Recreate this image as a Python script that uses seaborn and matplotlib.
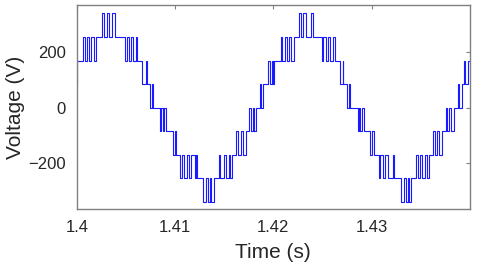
import numpy as np
import pandas as pd
import matplotlib
matplotlib.use("Agg")
import matplotlib.pyplot as plt
import seaborn as sns

# one inverter level = 85 V (nine levels, -340 V ... +340 V)
step_v = 85

# switching instants in ms after t = 1.4 s, and the level held after each one
period1_t = [
    0.00, 0.05,
    0.64, 0.80, 1.05, 1.25, 1.46, 1.70, 1.91,
    2.52, 2.75, 3.05, 3.28, 3.62, 3.90,
    4.87, 5.07, 5.30, 5.50, 5.68, 5.98, 6.12,
    6.66, 7.04, 7.11,
    7.45, 7.62, 7.72,
    8.47, 8.60, 8.72, 8.85, 9.10,
    9.80, 9.95, 10.12,
    10.51, 10.70, 10.95, 11.20, 11.45, 11.65, 12.00, 12.12, 12.28,
    12.89, 13.10, 13.30, 13.55, 13.70, 13.91,
    14.42, 14.59, 14.93, 15.17, 15.44, 15.60, 15.79,
    16.22, 16.45, 16.66, 16.90, 17.17,
    17.52, 17.70, 17.90, 18.05, 18.27,
    18.60, 18.75, 18.95,
    19.50, 19.62, 19.85, 19.95, 20.10,
]
period1_lvl = [
    1, 2,
    3, 2, 3, 2, 3, 2, 3,
    4, 3, 4, 3, 4, 3,
    2, 3, 2, 3, 2, 3, 2,
    1, 2, 1,
    0, 1, 0,
    -1, 0, -1, 0, -1,
    -2, -1, -2,
    -3, -2, -3, -2, -3, -2, -3, -2, -3,
    -4, -3, -4, -3, -4, -3,
    -2, -3, -2, -3, -2, -3, -2,
    -1, -2, -1, -2, -1,
    0, -1, 0, -1, 0,
    1, 0, 1,
    2, 1, 2, 1, 2,
]

period2_t = [
    20.74, 20.90, 21.15, 21.35, 21.55, 21.80, 22.11,
    22.62, 22.85, 23.03, 23.28, 23.78, 24.02,
    24.90, 25.10, 25.35, 25.55, 25.75, 26.05, 26.30,
    26.75, 27.05, 27.12,
    27.50, 27.70, 27.80,
    28.57, 28.70, 28.85, 28.98, 29.25,
    29.87, 30.05, 30.25,
    30.75, 30.90, 31.15, 31.35, 31.65, 32.15, 32.30,
    32.96, 33.25, 33.47, 33.70, 33.81, 34.05,
    34.56, 34.70, 34.95, 35.15, 35.45, 35.60, 35.82,
    36.26, 36.45, 36.65, 36.85, 37.11,
    37.52, 37.65, 37.90, 38.10, 38.38,
    38.74, 38.88, 39.15,
    39.42, 39.55, 39.83, 40.00,
]
period2_lvl = [
    3, 2, 3, 2, 3, 2, 3,
    4, 3, 4, 3, 4, 3,
    2, 3, 2, 3, 2, 3, 2,
    1, 2, 1,
    0, 1, 0,
    -1, 0, -1, 0, -1,
    -2, -1, -2,
    -3, -2, -3, -2, -3, -2, -3,
    -4, -3, -4, -3, -4, -3,
    -2, -3, -2, -3, -2, -3, -2,
    -1, -2, -1, -2, -1,
    0, -1, 0, -1, 0,
    1, 0, 1,
    2, 1, 2, 2,
]

x_ticks = [1.4, 1.41, 1.42, 1.43]
x_tick_labels = ["1.4", "1.41", "1.42", "1.43"]
y_ticks = [-200, 0, 200]

df = pd.DataFrame({
    "time": 1.4 + np.array(period1_t + period2_t) / 1000.0,
    "voltage": np.array(period1_lvl + period2_lvl) * step_v,
})

sns.set_style("white")
plt.rcParams["font.family"] = ["Liberation Sans", "DejaVu Sans"]

fig = plt.figure(figsize=(4.8, 2.7), dpi=100)
ax = fig.add_axes([0.160, 0.226, 0.819, 0.755])

sns.lineplot(data=df, x="time", y="voltage", estimator=None, sort=False,
             drawstyle="steps-post", color="#1a1aff", linewidth=0.8, ax=ax)

ax.set_xlim(1.4, 1.44)
ax.set_ylim(-366, 370)
ax.set_xticks(x_ticks)
ax.set_xticklabels(x_tick_labels)
ax.set_yticks(y_ticks)
ax.set_xlabel("Time (s)", fontsize=15, color="#262626", labelpad=6)
ax.set_ylabel("Voltage (V)", fontsize=15, color="#262626", labelpad=2)
ax.tick_params(direction="in", top=True, right=True, length=3, width=0.8,
               color="#808080", labelsize=12, labelcolor="#262626", pad=8)
for s in ax.spines.values():
    s.set_color("#808080")
    s.set_linewidth(1.0)

fig.savefig("out.png", dpi=100)
